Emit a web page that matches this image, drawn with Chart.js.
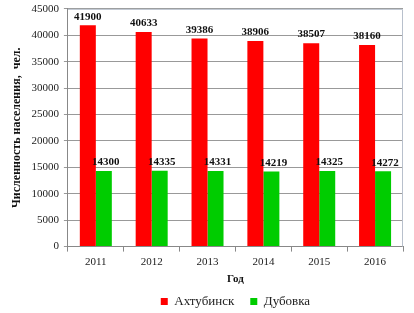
<!DOCTYPE html>
<html><head><meta charset="utf-8">
<script src="https://cdn.jsdelivr.net/npm/chart.js@4/dist/chart.umd.min.js"></script>
<style>html,body{margin:0;padding:0;background:#fff}#w{width:414px;height:313px;position:relative}</style>
</head><body><div id="w"><canvas id="c"></canvas></div>
<script>
const years = ['2011','2012','2013','2014','2015','2016'];
const akhtubinsk = [41900, 40633, 39386, 38906, 38507, 38160];
const dubovka = [14300, 14335, 14331, 14219, 14325, 14272];
const seriesNames = ['Ахтубинск', 'Дубовка'];
const yTitle = 'Численность населения,  чел.';
const xTitle = 'Год';

const SERIF = '"Liberation Serif", "Times New Roman", serif';

const labelsPlugin = {
  id: 'vlabels',
  afterDatasetsDraw(chart) {
    const ctx = chart.ctx;
    ctx.save();
    ctx.font = 'bold 11px ' + SERIF;
    ctx.fillStyle = '#111';
    ctx.textAlign = 'center';
    ctx.textBaseline = 'bottom';
    chart.data.datasets.forEach((ds, i) => {
      chart.getDatasetMeta(i).data.forEach((bar, j) => {
        ctx.fillText(String(ds.data[j]), bar.x + (i === 1 ? 2 : 0), bar.y - 3);
      });
    });
    ctx.restore();
  }
};
const borderPlugin = {
  id: 'areaBorder',
  beforeDatasetsDraw(chart) {
    const a = chart.chartArea, ctx = chart.ctx;
    ctx.save();
    ctx.strokeStyle = '#b8c0cc';
    ctx.lineWidth = 1;
    ctx.beginPath();
    ctx.moveTo(a.left, a.top + 0.5);
    ctx.lineTo(a.right - 0.5, a.top + 0.5);
    ctx.lineTo(a.right - 0.5, a.bottom);
    ctx.stroke();
    ctx.restore();
  }
};

new Chart(document.getElementById('c'), {
  type: 'bar',
  data: {
    labels: years,
    datasets: [
      { label: seriesNames[0], data: akhtubinsk, backgroundColor: '#ff0000', categoryPercentage: 0.573, barPercentage: 1 },
      { label: seriesNames[1], data: dubovka, backgroundColor: '#00cc00', categoryPercentage: 0.573, barPercentage: 1 }
    ]
  },
  options: {
    responsive: true,
    maintainAspectRatio: false,
    animation: false,
    devicePixelRatio: 1,
    layout: { padding: { left: 10, right: 11, top: -3, bottom: -5 } },
    plugins: {
      legend: {
        position: 'bottom',
        fullSize: false,
        labels: { font: { family: SERIF, size: 13 }, color: '#222', boxWidth: 7, boxHeight: 7, padding: 16 }
      },
      tooltip: { enabled: false }
    },
    scales: {
      x: {
        grid: { drawOnChartArea: false, drawTicks: true, tickLength: 5, color: '#888', offset: true },
        border: { color: '#888' },
        ticks: { font: { family: SERIF, size: 11 }, color: '#222', padding: 4 },
        title: { display: true, text: xTitle, font: { family: SERIF, size: 11, weight: 'bold' }, color: '#111', padding: { top: 0, bottom: -7 } }
      },
      y: {
        min: 0, max: 45000,
        ticks: { stepSize: 5000, font: { family: SERIF, size: 11, lineHeight: 0.7 }, color: '#222', padding: 5, callback: v => String(v) },
        grid: { color: '#999', tickLength: 4 },
        border: { color: '#888' },
        title: { display: true, text: yTitle, font: { family: SERIF, size: 12, weight: 'bold' }, color: '#111', padding: { top: 0, bottom: 2 } }
      }
    }
  },
  plugins: [labelsPlugin, borderPlugin]
});
</script></body></html>
